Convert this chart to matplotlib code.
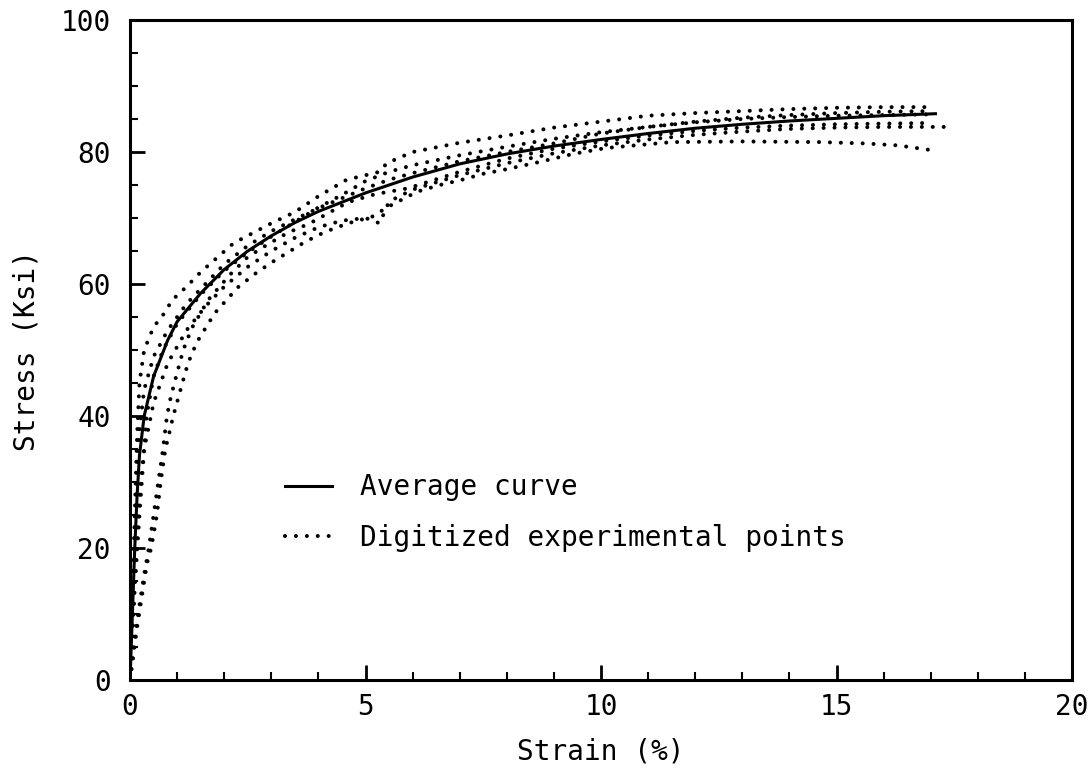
import matplotlib.pyplot as plt
from matplotlib.ticker import MultipleLocator

plt.rcParams['font.family'] = ['DejaVu Sans Mono']

# Average (fitted) stress-strain curve
avg_strain = [0, 0.05, 0.1, 0.15, 0.2, 0.3, 0.5, 0.8, 1.0, 1.5, 2.0, 2.5, 3.0, 3.5, 4.0,
              5.0, 6.0, 7.0, 8.0, 9.0, 10.0, 11.0, 12.0, 13.0, 14.0, 15.0, 16.0, 17.1]
avg_stress = [0, 10, 20, 28, 34, 40, 46, 51.5, 54.3, 58.6, 62.2, 65.0, 67.3, 69.3, 71.0,
              73.8, 76.2, 78.2, 79.7, 80.9, 81.9, 82.8, 83.6, 84.2, 84.7, 85.1, 85.5, 85.8]

exp1_strain = [0, 0.05, 0.1, 0.15, 0.2, 0.3, 0.5, 0.7, 0.9, 1.2, 1.5, 1.85, 2.2, 2.6, 3.0,
               3.5, 4.0, 4.6, 5.3, 5.45, 6.0, 7.0, 8.0, 9.0, 10.0, 11.0, 12.0, 13.0, 14.0,
               15.0, 16.0, 17.0]
exp1_stress = [0, 12, 25, 37, 45, 50, 53.5, 55.3, 57.6, 59.6, 61.8, 64.0, 66.2, 67.7, 69.2,
               70.9, 73.3, 75.8, 77.0, 78.3, 80.0, 81.4, 82.5, 83.7, 84.6, 85.5, 85.9, 86.2,
               86.5, 86.7, 86.8, 86.8]

exp2_strain = [0, 0.1, 0.2, 0.3, 0.5, 0.8, 1.2, 1.6, 2.0, 2.5, 3.0, 3.5, 4.0, 4.5, 5.0,
               5.5, 6.0, 7.0, 8.0, 9.0, 10.0, 11.0, 12.0, 13.0, 14.0, 15.0, 16.0, 17.0]
exp2_stress = [0, 22, 38, 44, 49, 53, 57, 60, 63, 65.8, 68, 69.8, 71.5, 73, 74.5,
               75.8, 76.8, 78.6, 80, 81.3, 82.8, 83.8, 84.6, 85.2, 85.6, 85.9, 86.1, 86.2]

exp3_strain = [0, 0.1, 0.2, 0.3, 0.5, 0.8, 1.2, 1.6, 2.0, 2.5, 3.0, 3.5, 4.0, 4.5, 5.0,
               5.3, 5.5, 6.0, 7.0, 8.0, 9.0, 10.0, 11.0, 12.0, 13.0, 14.0, 15.0, 16.0, 17.3]
exp3_stress = [0, 15, 28, 35, 42, 48, 53, 56.6, 59.6, 62.6, 65, 67, 68.6, 69.6, 70,
               69.2, 72.5, 74.3, 76.5, 78.3, 79.8, 81, 81.9, 82.6, 83.1, 83.5, 83.7, 83.8, 83.8]

exp4_strain = [0, 0.15, 0.36, 0.45, 0.57, 0.65, 0.75, 0.85, 0.91, 1.1, 1.23, 1.42, 1.8,
               2.29, 2.7, 3.08, 3.72, 4.14, 4.63, 5.14, 5.48, 6.1, 6.58, 7.05, 7.5, 8.0,
               8.7, 9.4, 10.1, 11.5, 13.0, 14.65, 15.6, 16.3, 17.0]
exp4_stress = [0, 8, 17.7, 20, 25, 30, 35, 37.9, 39.8, 44.7, 48, 51.2, 55.6,
               59.5, 61.8, 63.6, 66.4, 67.9, 69.2, 70.2, 71.7, 74, 75, 75.8, 76.7, 77.4,
               78.5, 79.7, 80.6, 81.5, 81.6, 81.5, 81.3, 81.0, 80.3]

exp5_strain = [0, 0.15, 0.3, 0.4, 0.5, 0.6, 0.7, 0.78, 0.85, 0.96, 1.13, 1.31, 1.66,
               2.12, 2.5, 2.9, 3.33, 3.82, 4.2, 4.63, 5.2, 5.9, 7.0, 8.0, 9.0, 10.0,
               11.0, 12.0, 13.0, 14.0, 15.0, 16.0, 17.0]
exp5_stress = [0, 9, 16, 20, 25, 30, 35, 39.8, 42.4, 45.5, 50, 53.3, 57.6,
               61.4, 64.1, 65.9, 67.7, 69.2, 70.7, 72.4, 73.6, 74.5, 77, 79, 80.5, 81.6,
               82.5, 83.2, 83.7, 84.0, 84.2, 84.3, 84.4]

exp6_strain = [0, 0.1, 0.2, 0.28, 0.35, 0.5, 0.7, 1.0, 1.5, 2.0, 2.5, 3.0, 3.5, 4.0,
               4.5, 5.0, 5.5, 6.0, 7.0, 8.0, 9.0, 10.0, 11.0, 12.0, 13.0, 14.0, 15.0,
               16.0, 17.0]
exp6_stress = [0, 14, 25, 33, 40, 46, 50, 54, 58.4, 62, 64.8, 67.2, 69.4, 71.6,
               73.5, 75.6, 77, 78, 79.5, 80.8, 82, 83, 83.8, 84.5, 85, 85.3, 85.5,
               85.6, 85.7]

experiments = [
    (exp1_strain, exp1_stress),
    (exp2_strain, exp2_stress),
    (exp3_strain, exp3_stress),
    (exp4_strain, exp4_stress),
    (exp5_strain, exp5_stress),
    (exp6_strain, exp6_stress),
]

x_ticks = [0, 5, 10, 15, 20]
y_ticks = [0, 20, 40, 60, 80, 100]

fig = plt.figure(figsize=(10.9, 7.69), dpi=100)
ax = fig.add_axes([0.1193, 0.1157, 0.8642, 0.8583])

dot_style = dict(color='black', linewidth=2.9, linestyle=(0, (0.01, 2.7)),
                 dash_capstyle='round')

for i, (s, st) in enumerate(experiments):
    ax.plot(s, st, label='Digitized experimental points' if i == 0 else None,
            **dot_style)

ax.plot(avg_strain, avg_stress, color='black', linewidth=2.2, label='Average curve')

ax.set_xlim(0, 20)
ax.set_ylim(0, 100)
ax.set_xticks(x_ticks)
ax.set_yticks(y_ticks)
ax.xaxis.set_minor_locator(MultipleLocator(1))
ax.yaxis.set_minor_locator(MultipleLocator(5))
ax.tick_params(which='major', direction='in', length=11, width=2,
               labelsize=20, pad=9)
ax.tick_params(axis='y', which='major', pad=14)
ax.tick_params(which='minor', direction='in', length=6, width=1.5)
for sp in ax.spines.values():
    sp.set_linewidth(2.2)

ax.set_xlabel('Strain (%)', fontsize=20, labelpad=12)
ax.set_ylabel('Stress (Ksi)', fontsize=20, labelpad=14)

handles, labels = ax.get_legend_handles_labels()
order = [labels.index('Average curve'), labels.index('Digitized experimental points')]
ax.legend([handles[k] for k in order], [labels[k] for k in order],
          loc='upper left', bbox_to_anchor=(0.1645, 0.313), frameon=False,
          fontsize=20, handlelength=1.7, handletextpad=1.0, labelspacing=0.8,
          borderpad=0, borderaxespad=0)

fig.savefig('out.png', dpi=100)
